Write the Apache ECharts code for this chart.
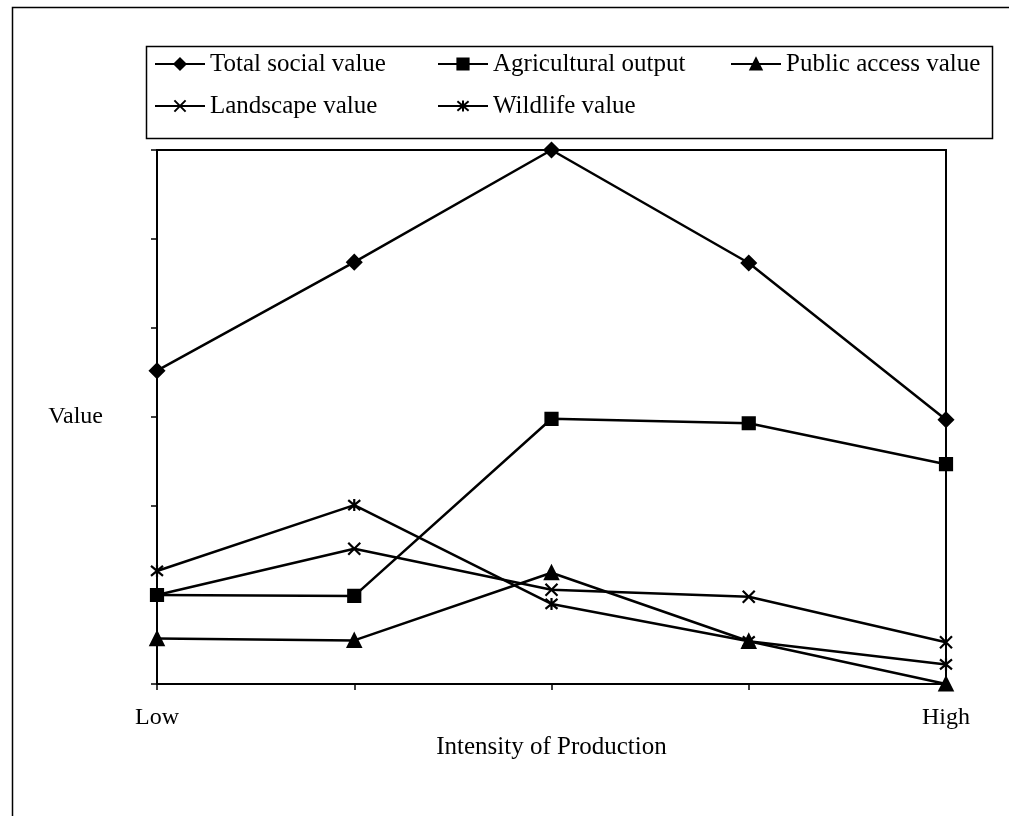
<!DOCTYPE html>
<html>
<head>
<meta charset="utf-8">
<script src="https://cdn.jsdelivr.net/npm/echarts@6/dist/echarts.min.js"></script>
<style>
  html, body { margin: 0; padding: 0; background: #fff; }
  #chart_div { width: 1009px; height: 816px; }
</style>
</head>
<body>
<div id="chart_div"></div>
<script>
// 数据
var categories = ['Low', 'Low-mid', 'Medium', 'Mid-high', 'High']
var xLabels = ['Low', '', '', '', 'High']
var totalSocial = [3.52, 4.74, 6.0, 4.73, 2.97]
var agricultural = [1.0, 0.99, 2.98, 2.93, 2.47]
var publicAccess = [0.51, 0.49, 1.25, 0.48, 0]
var landscape = [1.0, 1.52, 1.06, 0.98, 0.47]
var wildlife = [1.27, 2.01, 0.9, 0.48, 0.22]

var font = 'Liberation Serif, Times New Roman, serif'
var crossPath = 'path://M0,0L10,10M10,0L0,10'
var starPath = 'path://M0,0L10,10M10,0L0,10M5,-1L5,11'

var seriesList = [
  { name: 'Total social value', data: totalSocial, symbol: 'diamond', size: 14 },
  { name: 'Agricultural output', data: agricultural, symbol: 'rect', size: 12 },
  { name: 'Public access value', data: publicAccess, symbol: 'triangle', size: 13 },
  { name: 'Landscape value', data: landscape, symbol: crossPath, size: 12 },
  { name: 'Wildlife value', data: wildlife, symbol: starPath, size: 12 }
]

// 图例位置 (每项单独一个 legend，保证列对齐)
var legendPos = [[154, 50], [437, 50], [730, 50], [154, 92], [437, 92]]

var myChart = echarts.init(document.getElementById('chart_div'))

var option = {
  backgroundColor: '#fff',
  animation: false,
  graphic: [
    {
      type: 'rect', left: 10, top: 5,
      shape: { width: 1010, height: 830 },
      style: { fill: 'none', stroke: '#000', lineWidth: 1.5 }
    },
    {
      type: 'rect', left: 144, top: 44,
      shape: { width: 846, height: 92 },
      style: { fill: 'none', stroke: '#000', lineWidth: 1.5 }
    }
  ],
  legend: seriesList.map(function (s, i) {
    return {
      data: [s.name],
      left: legendPos[i][0],
      top: legendPos[i][1],
      padding: 0,
      itemWidth: 50,
      itemHeight: 14,
      selectedMode: false,
      textStyle: { fontFamily: font, fontSize: 25, color: '#000', lineHeight: 28 }
    }
  }),
  grid: {
    left: 157, right: 63, top: 150, bottom: 132,
    show: true, borderColor: '#000', borderWidth: 2, containLabel: false
  },
  xAxis: {
    type: 'category',
    data: categories,
    boundaryGap: false,
    name: 'Intensity of Production',
    nameLocation: 'middle',
    nameGap: 46,
    nameTextStyle: { fontFamily: font, fontSize: 25, color: '#000' },
    axisLine: { lineStyle: { color: '#000', width: 2 } },
    axisTick: { show: true, length: 6, lineStyle: { color: '#000', width: 1.5 } },
    axisLabel: {
      margin: 22, fontFamily: font, fontSize: 24, color: '#000',
      formatter: function (v, i) { return xLabels[i] }
    },
    splitLine: { show: false }
  },
  yAxis: {
    type: 'value',
    min: 0, max: 6, interval: 1,
    name: 'Value',
    nameLocation: 'middle',
    nameRotate: 0,
    nameGap: 54,
    nameTextStyle: { fontFamily: font, fontSize: 24, color: '#000' },
    axisLine: { show: true, lineStyle: { color: '#000', width: 2 } },
    axisTick: { show: true, length: 6, lineStyle: { color: '#000', width: 1.5 } },
    axisLabel: { show: false },
    splitLine: { show: false }
  },
  series: seriesList.map(function (s) {
    return {
      name: s.name,
      type: 'line',
      data: s.data,
      symbol: s.symbol,
      symbolSize: s.size,
      showAllSymbol: true,
      clip: false,
      lineStyle: { color: '#000', width: 2.5 },
      itemStyle: { color: '#000', borderColor: '#000', borderWidth: 2.2 }
    }
  })
}

myChart.setOption(option)
</script>
</body>
</html>
